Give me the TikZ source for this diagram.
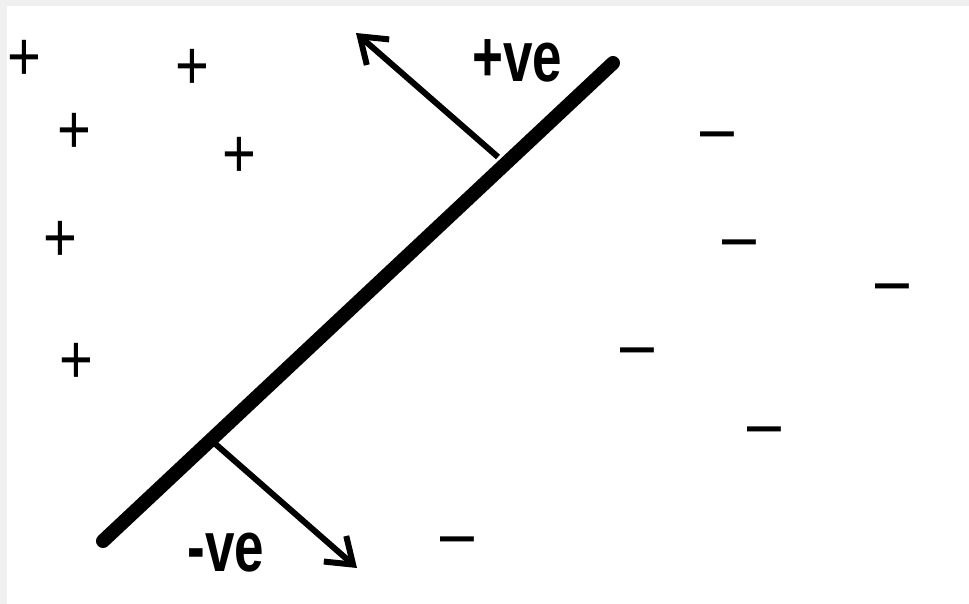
\documentclass[tikz,border=0pt]{standalone}
\usepackage{fontspec}
\setmainfont{Liberation Sans}
\usetikzlibrary{arrows.meta}
\tikzset{
  sign/.style={inner sep=0pt, outer sep=0pt, font=\fontsize{58}{58}\selectfont},
  lbl/.style={inner sep=0pt, outer sep=0pt, font=\fontsize{53}{53}\selectfont\bfseries},
  boundary/.style={line width=14pt, line cap=round},
  normalarrow/.style={line width=6pt, -{Straight Barb[length=24pt, width=34pt, line width=6pt]}}
}
\newcommand{\tallp}{\scalebox{1}[1.2]{+}}
\newcommand{\mn}{\scalebox{1.05}[1.3]{–}}
\newcommand{\tl}[1]{\scalebox{1}[1.35]{#1}}
\begin{document}
\begin{tikzpicture}[x=1pt, y=-1pt]
\useasboundingbox (0,0) rectangle (969,604);
\fill[white] (0,0) rectangle (969,604);
\fill[black!6] (0,0) rectangle (969,6);
\fill[black!6] (0,0) rectangle (7,604);
% plus signs
\node[sign] (p1) at (24,60) {\tallp};
\node[sign] (p2) at (192,69) {\tallp};
\node[sign] (p3) at (74,133) {\tallp};
\node[sign] (p4) at (239,157) {\tallp};
\node[sign] (p5) at (60,241) {\tallp};
\node[sign] (p6) at (76,363) {\tallp};
% minus signs
\node[sign] (m1) at (717,143) {\mn};
\node[sign] (m2) at (739,251) {\mn};
\node[sign] (m3) at (892,295) {\mn};
\node[sign] (m4) at (637,359) {\mn};
\node[sign] (m5) at (764,438) {\mn};
\node[sign] (m6) at (457,548) {\mn};
% boundary line
\coordinate (lo) at (103,541);
\coordinate (hi) at (613,63);
\draw[boundary] (lo) -- (hi);
% normals
\coordinate (ta) at (498,157);
\coordinate (tb) at (356,33);
\coordinate (ba) at (212,441);
\coordinate (bb) at (357,568);
\draw[normalarrow] (ta) -- (tb);
\draw[normalarrow] (ba) -- (bb);
% labels
\node[lbl] (pos) at (517,61) {\tl{+ve}};
\node[lbl] (neg) at (226,553) {\tl{-ve}};
\end{tikzpicture}
\end{document}
